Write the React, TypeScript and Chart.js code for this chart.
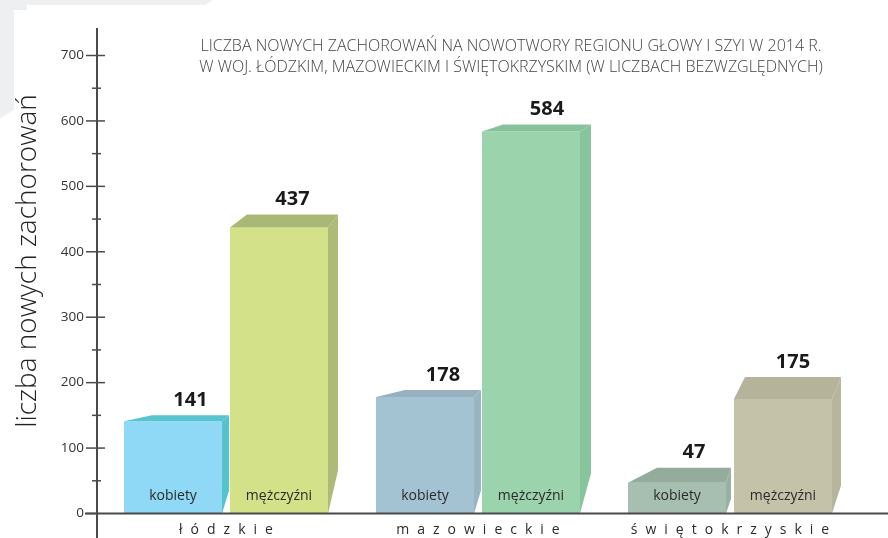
import React, { useEffect, useRef } from "react";
import { Chart, registerables } from "chart.js";

Chart.register(...registerables);

// ---- data ----
const categories = ["łódzkie", "mazowieckie", "świętokrzyskie"];
const seriesNames = ["kobiety", "mężczyźni"];
const women = [141, 178, 47];
const men = [437, 584, 175];
const yMax = 700;
const yStep = 100;
const titleLines = [
  "LICZBA NOWYCH ZACHOROWAŃ NA NOWOTWORY REGIONU GŁOWY I SZYI W 2014 R.",
  "W WOJ. ŁÓDZKIM, MAZOWIECKIM I ŚWIĘTOKRZYSKIM (W LICZBACH BEZWZGLĘDNYCH)",
];
const yTitle = "liczba nowych zachorowań";

// ---- styles ----
const frontColors = [
  ["#8fd8f6", "#a3c2d2", "#a6bfb1"],
  ["#d3e288", "#9bd3ad", "#c4c3aa"],
];
const topColors = [
  ["#57c5cf", "#97b1c0", "#93ac9c"],
  ["#a9b874", "#86c39a", "#b5b49b"],
];
const sideColors = [
  ["#55c3cc", "#9ab4c2", "#98b1a1"],
  ["#adba78", "#88c59c", "#b6b59e"],
];
const depthStyles = [
  [
    { dy: 6, l: 28, r: 7, drop: 23 },
    { dy: 7, l: 29, r: 7, drop: 23 },
    { dy: 15, l: 29, r: 5, drop: 15 },
  ],
  [
    { dy: 13, l: 17, r: 10, drop: 43 },
    { dy: 7, l: 21, r: 11, drop: 40 },
    { dy: 22, l: 11, r: 9, drop: 28 },
  ],
];
const FONT = "'Open Sans', 'Noto Sans', sans-serif";
const AXIS_X = 97;

const threeD = {
  id: "threeD",
  beforeDraw(chart: any) {
    const ctx = chart.ctx;
    ctx.save();
    ctx.fillStyle = "#ffffff";
    ctx.fillRect(0, 0, chart.width, chart.height);
    ctx.fillStyle = "#eeeff1";
    ctx.beginPath();
    ctx.moveTo(0, 0);
    ctx.lineTo(213, 0);
    ctx.lineTo(205, 5);
    ctx.lineTo(27, 5);
    ctx.lineTo(27, 10);
    ctx.lineTo(14, 10);
    ctx.lineTo(14, 110);
    ctx.lineTo(0, 118);
    ctx.closePath();
    ctx.fill();
    ctx.restore();
  },
  afterDatasetDraw(chart: any, args: any) {
    const ctx = chart.ctx;
    const di = args.index;
    const meta = chart.getDatasetMeta(di);
    ctx.save();
    meta.data.forEach((bar: any, j: number) => {
      const p = bar.getProps(["x", "y", "base", "width"], true);
      const fl = p.x - p.width / 2;
      const fr = p.x + p.width / 2;
      const d = depthStyles[di][j];
      ctx.fillStyle = sideColors[di][j];
      ctx.beginPath();
      ctx.moveTo(fr, p.y);
      ctx.lineTo(fr + d.r, p.y - d.dy);
      ctx.lineTo(fr + d.r, p.base - d.drop);
      ctx.lineTo(fr, p.base);
      ctx.closePath();
      ctx.fill();
      ctx.fillStyle = topColors[di][j];
      ctx.beginPath();
      ctx.moveTo(fl, p.y);
      ctx.lineTo(fl + d.l, p.y - d.dy);
      ctx.lineTo(fr + d.r, p.y - d.dy);
      ctx.lineTo(fr, p.y);
      ctx.closePath();
      ctx.fill();
      ctx.fillStyle = "#2b2b2b";
      ctx.font = `14px ${FONT}`;
      ctx.textAlign = "center";
      ctx.textBaseline = "middle";
      ctx.fillText(seriesNames[di], p.x, 496);
    });
    ctx.restore();
  },
  afterDatasetsDraw(chart: any) {
    const ctx = chart.ctx;
    ctx.save();
    chart.data.datasets.forEach((ds: any, di: number) => {
      const meta = chart.getDatasetMeta(di);
      meta.data.forEach((bar: any, j: number) => {
        const p = bar.getProps(["x", "y", "base", "width"], true);
        const d = depthStyles[di][j];
        const cx = p.x + (d.l + d.r) / 2;
        ctx.fillStyle = "#1a1a1a";
        ctx.font = `bold 20px ${FONT}`;
        ctx.textAlign = "center";
        ctx.textBaseline = "middle";
        ctx.fillText(String(ds.data[j]), cx, p.y - d.dy - 15);
      });
    });
    ctx.restore();
  },
  afterDraw(chart: any) {
    const ctx = chart.ctx;
    const ys = chart.scales.y;
    const xs = chart.scales.x;
    const ax = AXIS_X;
    const y0 = ys.getPixelForValue(0);
    ctx.save();
    ctx.strokeStyle = "#4a4a4a";
    ctx.lineWidth = 2;
    ctx.beginPath();
    ctx.moveTo(ax, 28);
    ctx.lineTo(ax, chart.height);
    ctx.stroke();
    ctx.beginPath();
    ctx.moveTo(85, y0);
    ctx.lineTo(chart.width, y0);
    ctx.stroke();
    ctx.lineWidth = 1.5;
    for (let v = 0; v <= yMax; v += yStep / 2) {
      const y = ys.getPixelForValue(v);
      const major = v % yStep === 0;
      ctx.beginPath();
      ctx.moveTo(major ? ax - 11 : ax - 5, y);
      ctx.lineTo(major ? (v === 0 ? ax : ax + 8) : ax + 4, y);
      ctx.stroke();
    }
    ctx.fillStyle = "#444444";
    ctx.font = `300 16px ${FONT}`;
    ctx.textAlign = "center";
    ctx.textBaseline = "middle";
    ctx.fillText(titleLines[0], 511, 46);
    ctx.fillText(titleLines[1], 511, 67);
    ctx.save();
    ctx.translate(28, 261);
    ctx.rotate(-Math.PI / 2);
    ctx.fillStyle = "#222222";
    ctx.font = `300 28px ${FONT}`;
    ctx.fillText(yTitle, 0, 0);
    ctx.restore();
    ctx.fillStyle = "#2b2b2b";
    ctx.font = `14px ${FONT}`;
    const sp = 8;
    (ctx as any).letterSpacing = `${sp}px`;
    ctx.textAlign = "left";
    categories.forEach((c, i) => {
      const w = ctx.measureText(c).width - sp;
      const cx = xs.getPixelForValue(i);
      ctx.fillText(c, cx - w / 2, 530);
    });
    (ctx as any).letterSpacing = "0px";
    ctx.restore();
  },
};

export default function App() {
  const ref = useRef<HTMLCanvasElement>(null);
  useEffect(() => {
    if (!ref.current) return;
    const chart = new Chart(ref.current, {
      type: "bar",
      data: {
        labels: categories,
        datasets: [
          {
            label: seriesNames[0],
            data: women,
            backgroundColor: frontColors[0],
            borderWidth: 0,
            categoryPercentage: 0.841,
            barPercentage: 0.925,
          },
          {
            label: seriesNames[1],
            data: men,
            backgroundColor: frontColors[1],
            borderWidth: 0,
            categoryPercentage: 0.841,
            barPercentage: 0.925,
          },
        ],
      },
      options: {
        responsive: false,
        animation: false,
        layout: { padding: { top: 55.5, right: 32, bottom: 24.5, left: 0 } },
        plugins: { legend: { display: false }, tooltip: { enabled: false } },
        scales: {
          x: {
            grid: { display: false, drawTicks: false },
            border: { display: false },
            ticks: { display: false },
            afterFit: (s: any) => {
              s.height = 0;
            },
          },
          y: {
            min: 0,
            max: yMax,
            grid: { display: false, drawTicks: false },
            border: { display: false },
            ticks: {
              stepSize: yStep,
              padding: 16,
              color: "#333333",
              font: { family: FONT, size: 13.5 },
            },
            afterFit: (s: any) => {
              s.width = 100;
            },
          },
        },
      },
      plugins: [threeD],
    });
    return () => chart.destroy();
  }, []);
  return (
    <div style={{ position: "fixed", left: 0, top: 0, width: 888, height: 538, background: "#fff" }}>
      <canvas ref={ref} width={888} height={538} />
    </div>
  );
}
